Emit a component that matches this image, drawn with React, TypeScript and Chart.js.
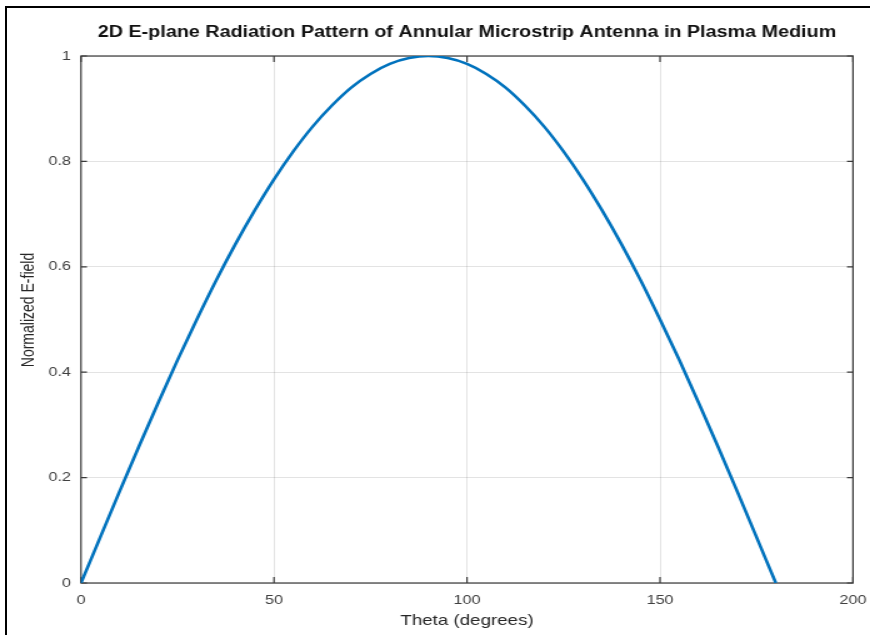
import React, { useEffect, useRef } from "react";
import { Chart, registerables } from "chart.js";

Chart.register(...registerables);

// ---- data ----
const thetaDeg = [
  0, 5, 10, 15, 20, 25, 30, 35, 40, 45, 50, 55, 60, 65, 70, 75, 80, 85, 90,
  95, 100, 105, 110, 115, 120, 125, 130, 135, 140, 145, 150, 155, 160, 165, 170, 175, 180,
];
const eField = [
  0, 0.087, 0.174, 0.259, 0.342, 0.423, 0.5, 0.574, 0.643, 0.707, 0.766, 0.819, 0.866, 0.906, 0.94, 0.966, 0.985, 0.996, 1.0,
  0.996, 0.985, 0.966, 0.94, 0.906, 0.866, 0.819, 0.766, 0.707, 0.643, 0.574, 0.5, 0.423, 0.342, 0.259, 0.174, 0.087, 0,
];
const xTicks = [0, 50, 100, 150, 200];
const yTicks = [0, 0.2, 0.4, 0.6, 0.8, 1];
const chartTitle = "2D E-plane Radiation Pattern of Annular Microstrip Antenna in Plasma Medium";
const xTitle = "Theta (degrees)";
const yTitle = "Normalized E-field";

// ---- layout ----
const SX = 1.25; // horizontal stretch of the reference
const W = 870 / SX;
const H = 635;
const FONT = "'Liberation Sans', Arial, Helvetica, sans-serif";

const framePlugin = {
  id: "matlabFrame",
  beforeDatasetsDraw(chart: any) {
    const { ctx, chartArea: a, scales } = chart;
    ctx.save();
    ctx.strokeStyle = "#3a3a3a";
    ctx.lineWidth = 1.2;
    ctx.strokeRect(a.left, a.top, a.right - a.left, a.bottom - a.top);
    const tx = 6;
    const ty = 6 / SX;
    ctx.beginPath();
    for (const v of xTicks) {
      const px = scales.x.getPixelForValue(v);
      ctx.moveTo(px, a.bottom);
      ctx.lineTo(px, a.bottom - tx);
      ctx.moveTo(px, a.top);
      ctx.lineTo(px, a.top + tx);
    }
    for (const v of yTicks) {
      const py = scales.y.getPixelForValue(v);
      ctx.moveTo(a.left, py);
      ctx.lineTo(a.left + ty, py);
      ctx.moveTo(a.right, py);
      ctx.lineTo(a.right - ty, py);
    }
    ctx.stroke();
    ctx.restore();
  },
  afterDraw(chart: any) {
    const { ctx, chartArea: a } = chart;
    // main title, centred over the plot area
    ctx.save();
    ctx.font = `bold 15.8px ${FONT}`;
    ctx.fillStyle = "#111111";
    ctx.textAlign = "center";
    ctx.textBaseline = "alphabetic";
    ctx.fillText(chartTitle, (a.left + a.right) / 2, 36.6);
    ctx.restore();
    // y-axis title
    ctx.save();
    ctx.translate(23.2, 310);
    ctx.rotate(-Math.PI / 2);
    ctx.font = `14px ${FONT}`;
    ctx.fillStyle = "#262626";
    ctx.textAlign = "center";
    ctx.textBaseline = "middle";
    ctx.fillText(yTitle, 0, 0);
    ctx.restore();
  },
};

export default function App() {
  const ref = useRef<HTMLCanvasElement | null>(null);

  useEffect(() => {
    if (!ref.current) return;
    const chart = new Chart(ref.current, {
      type: "line",
      data: {
        datasets: [
          {
            data: thetaDeg.map((t, i) => ({ x: t, y: eField[i] })),
            borderColor: "#0072BD",
            borderWidth: 2.6,
            pointRadius: 0,
            cubicInterpolationMode: "monotone",
            fill: false,
          },
        ],
      },
      options: {
        responsive: false,
        animation: false,
        devicePixelRatio: 1,
        layout: { padding: { left: 0, right: W - 853 / SX, top: 56, bottom: 0 } },
        plugins: {
          legend: { display: false },
          tooltip: { enabled: false },
          title: { display: false },
        },
        scales: {
          x: {
            type: "linear",
            min: 0,
            max: 200,
            afterBuildTicks: (s: any) => {
              s.ticks = xTicks.map((v) => ({ value: v }));
            },
            afterFit: (s: any) => {
              s.height = H - 583;
              s.paddingLeft = 0;
              s.paddingRight = 0;
            },
            grid: { color: "rgba(38,38,38,0.13)", lineWidth: 1, drawTicks: false },
            border: { display: false },
            ticks: {
              color: "#404040",
              font: { family: FONT, size: 13 },
              padding: 10,
              maxRotation: 0,
            },
            title: {
              display: true,
              text: xTitle,
              color: "#262626",
              font: { family: FONT, size: 15 },
              padding: { top: 0, bottom: 5.5 },
            },
          },
          y: {
            type: "linear",
            min: 0,
            max: 1,
            afterBuildTicks: (s: any) => {
              s.ticks = yTicks.map((v) => ({ value: v }));
            },
            afterFit: (s: any) => {
              s.width = 81 / SX;
              s.paddingTop = 0;
              s.paddingBottom = 0;
            },
            grid: { color: "rgba(38,38,38,0.13)", lineWidth: 1, drawTicks: false },
            border: { display: false },
            ticks: {
              color: "#404040",
              font: { family: FONT, size: 13 },
              padding: 8,
              callback: (v: any) => String(Math.round(Number(v) * 10) / 10),
            },
          },
        },
      },
      plugins: [framePlugin],
    } as any);
    return () => chart.destroy();
  }, []);

  return (
    <div style={{ position: "absolute", left: 0, top: 0, width: 870, height: 635, background: "#ffffff", overflow: "hidden" }}>
      <div
        style={{
          position: "absolute",
          left: 0,
          top: 0,
          width: W,
          height: H,
          transform: `scaleX(${SX})`,
          transformOrigin: "0 0",
        }}
      >
        <canvas ref={ref} width={W} height={H} style={{ display: "block" }} />
      </div>
      <div
        style={{
          position: "absolute",
          left: 5,
          top: 6,
          width: 880,
          height: 640,
          borderTop: "2px solid #000",
          borderLeft: "2px solid #000",
          pointerEvents: "none",
        }}
      />
    </div>
  );
}
